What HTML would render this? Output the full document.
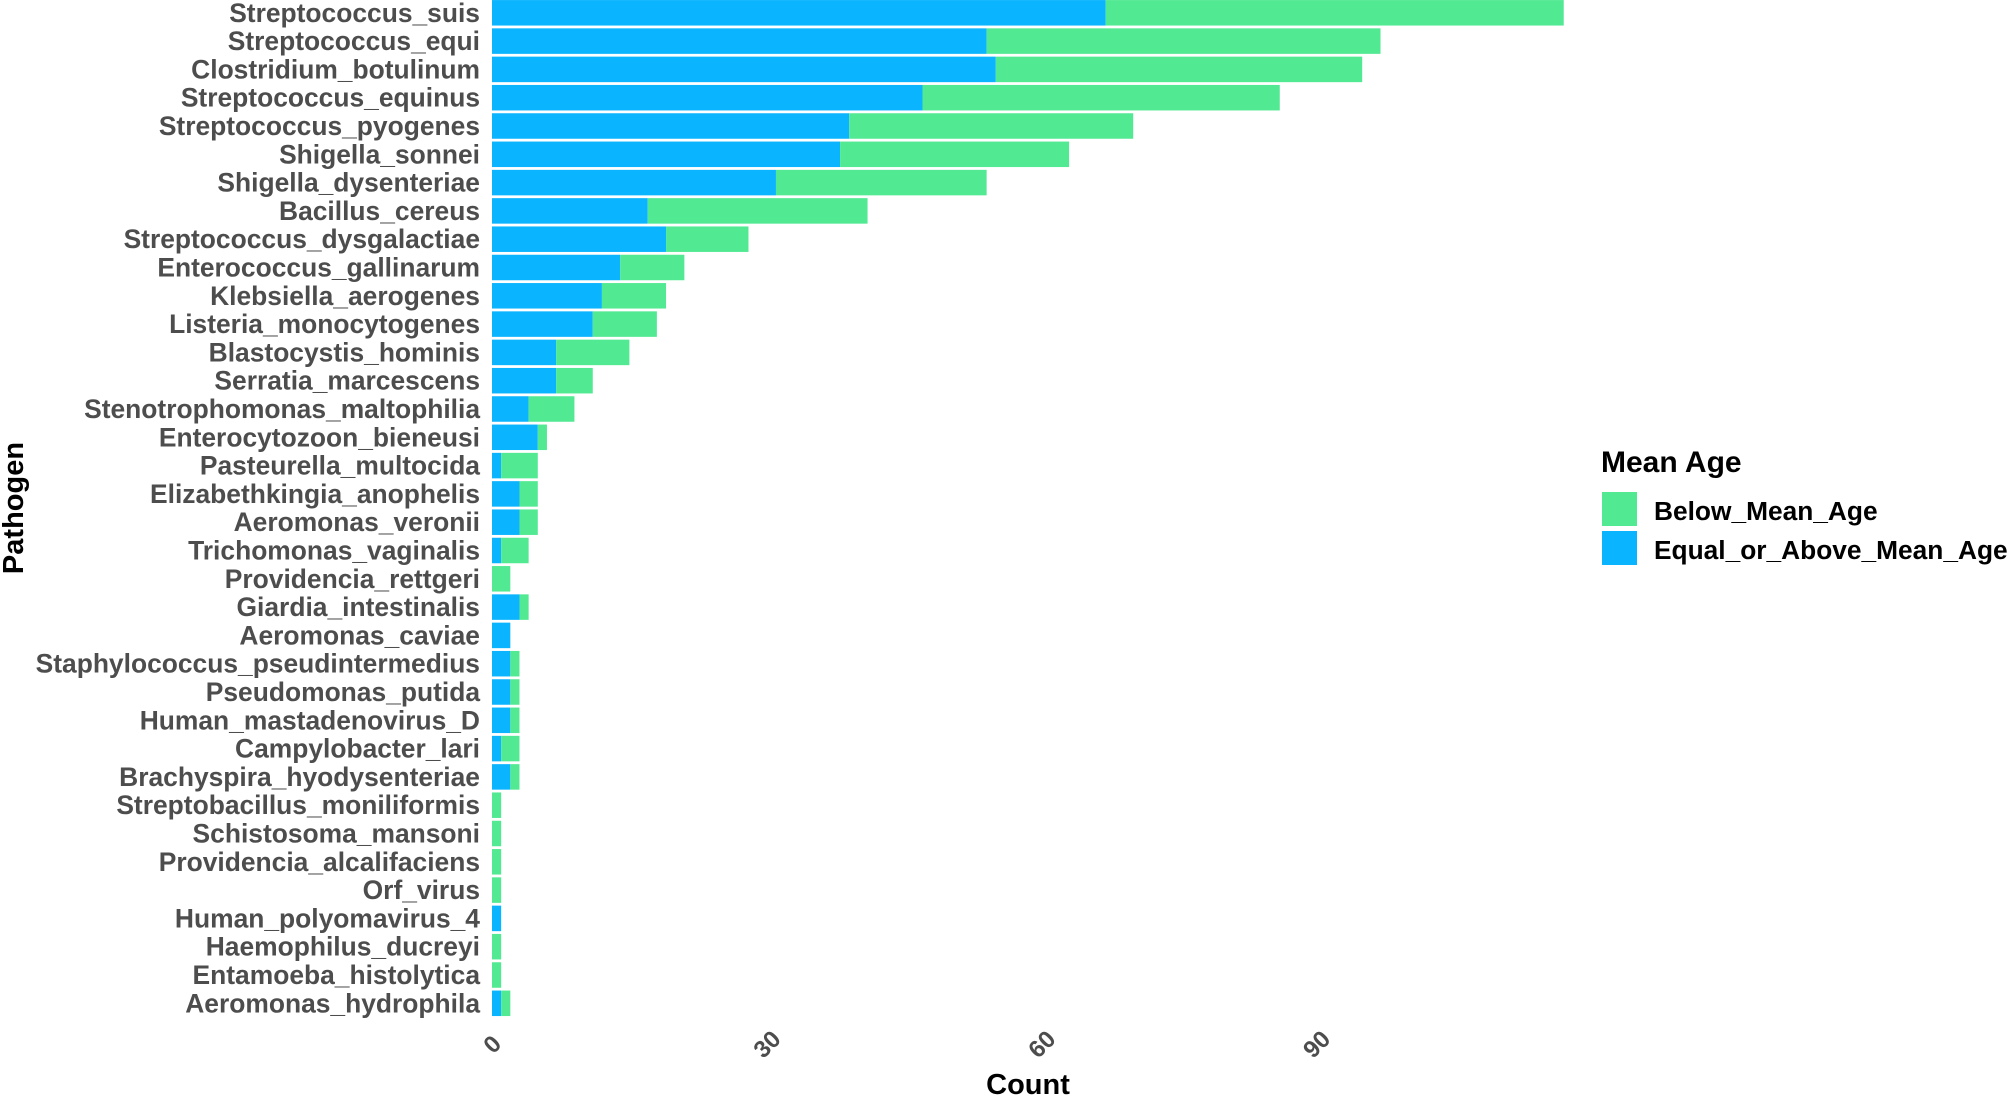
<!DOCTYPE html>
<html><head><meta charset="utf-8"><style>
body{margin:0;background:#fff;}
svg{display:block;font-family:"Liberation Sans",sans-serif;}
</style></head><body>
<svg id="chart" width="2008" height="1095">
<g id="bars"></g>
<g id="ylabels"></g>
<g id="xticks"></g>
<text x="1028" y="1094" text-anchor="middle" font-size="29" font-weight="bold" fill="#000">Count</text>
<text transform="translate(23,508) rotate(-90)" text-anchor="middle" font-size="29" font-weight="bold" fill="#000">Pathogen</text>
<g>
<text x="1601" y="472" font-size="30" font-weight="bold" fill="#000">Mean Age</text>
<rect x="1602" y="492" width="35" height="34" fill="#52E993"/>
<text x="1654" y="520" font-size="26.3" font-weight="bold" fill="#000">Below_Mean_Age</text>
<rect x="1602" y="531" width="35" height="34" fill="#0BB4FF"/>
<text x="1654" y="559" font-size="26.3" font-weight="bold" fill="#000">Equal_or_Above_Mean_Age</text>
</g>
</svg>
<script>
const categories=["Streptococcus_suis","Streptococcus_equi","Clostridium_botulinum","Streptococcus_equinus","Streptococcus_pyogenes","Shigella_sonnei","Shigella_dysenteriae","Bacillus_cereus","Streptococcus_dysgalactiae","Enterococcus_gallinarum","Klebsiella_aerogenes","Listeria_monocytogenes","Blastocystis_hominis","Serratia_marcescens","Stenotrophomonas_maltophilia","Enterocytozoon_bieneusi","Pasteurella_multocida","Elizabethkingia_anophelis","Aeromonas_veronii","Trichomonas_vaginalis","Providencia_rettgeri","Giardia_intestinalis","Aeromonas_caviae","Staphylococcus_pseudintermedius","Pseudomonas_putida","Human_mastadenovirus_D","Campylobacter_lari","Brachyspira_hyodysenteriae","Streptobacillus_moniliformis","Schistosoma_mansoni","Providencia_alcalifaciens","Orf_virus","Human_polyomavirus_4","Haemophilus_ducreyi","Entamoeba_histolytica","Aeromonas_hydrophila"];
const aboveValues=[67,54,55,47,39,38,31,17,19,14,12,11,7,7,4,5,1,3,3,1,0,3,2,2,2,2,1,2,0,0,0,0,1,0,0,1];
const belowValues=[50,43,40,39,31,25,23,24,9,7,7,7,8,4,5,1,4,2,2,3,2,1,0,1,1,1,2,1,1,1,1,1,0,1,1,1];
const xTicks=[0,30,60,90];
const NS="http://www.w3.org/2000/svg";
const x0=492, unit=9.16;
function xs(v){return x0+v*unit;}
function yc(i){return 12.8+i*28.3;}
const bh=25.5;
const bars=document.getElementById('bars'), yl=document.getElementById('ylabels'), xt=document.getElementById('xticks');
categories.forEach((c,i)=>{
  const a=aboveValues[i], b=belowValues[i];
  if(a>0){const r=document.createElementNS(NS,'rect');
    r.setAttribute('x',xs(0));r.setAttribute('y',yc(i)-bh/2);r.setAttribute('width',xs(a)-xs(0));r.setAttribute('height',bh);r.setAttribute('fill','#0BB4FF');
    
    
    bars.appendChild(r);}
  if(b>0){const r=document.createElementNS(NS,'rect');
    r.setAttribute('x',xs(a));r.setAttribute('y',yc(i)-bh/2);r.setAttribute('width',xs(a+b)-xs(a));r.setAttribute('height',bh);r.setAttribute('fill','#52E993');
    
    
    bars.appendChild(r);}
  const t=document.createElementNS(NS,'text');
  t.setAttribute('x',480);t.setAttribute('y',yc(i)+9);t.setAttribute('text-anchor','end');t.setAttribute('font-size','26.4');t.setAttribute('font-weight','bold');t.setAttribute('fill','#4d4d4d');
  t.textContent=c;
  
  
  yl.appendChild(t);
});
xTicks.forEach(v=>{
  const t=document.createElementNS(NS,'text');
  const x=xs(v)+6;
  t.setAttribute('transform','translate('+x+',1050) rotate(-45)');
  t.setAttribute('text-anchor','middle');t.setAttribute('font-size','24');t.setAttribute('font-weight','bold');t.setAttribute('fill','#4d4d4d');
  t.textContent=v;
  
  
  xt.appendChild(t);
});
</script>
</body></html>
